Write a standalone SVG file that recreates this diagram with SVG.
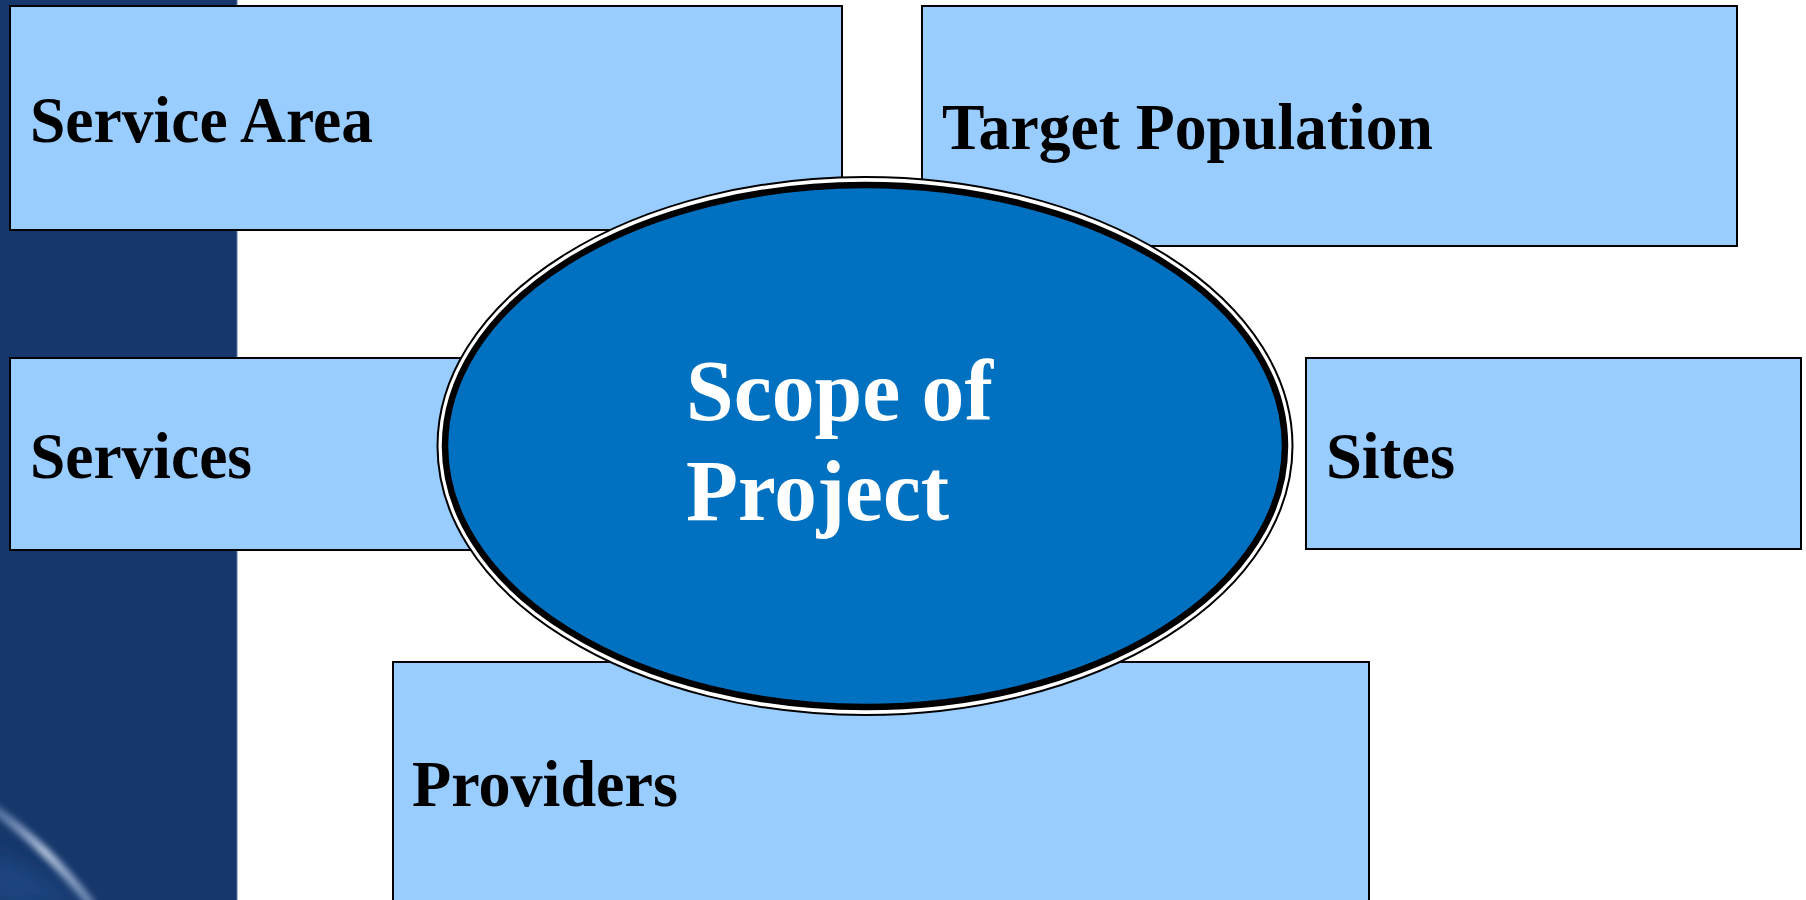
<svg xmlns="http://www.w3.org/2000/svg" width="1806" height="900" viewBox="0 0 1806 900">
  <style>
    .box { fill: #99CCFF; stroke: #000000; stroke-width: 2; }
    .label { font-family: "Liberation Serif", "Times New Roman", serif; font-weight: bold; font-size: 66px; fill: #000000; }
    .core { font-family: "Liberation Serif", "Times New Roman", serif; font-weight: bold; font-size: 86px; fill: #FFFFFF; }
  </style>
  <defs>
    <filter id="soft" x="-50%" y="-50%" width="200%" height="200%">
      <feGaussianBlur stdDeviation="3"/>
    </filter>
    <filter id="haze" x="-50%" y="-50%" width="200%" height="200%">
      <feGaussianBlur stdDeviation="10"/>
    </filter>
    <linearGradient id="streak" x1="0" y1="0" x2="1" y2="1">
      <stop offset="0" stop-color="#6f8fbf" stop-opacity="0.6"/>
      <stop offset="0.5" stop-color="#b7c6de"/>
      <stop offset="1" stop-color="#8aa3c9" stop-opacity="0.7"/>
    </linearGradient>
  </defs>

  <!-- background: navy side band with a light swoosh -->
  <rect x="0" y="0" width="1806" height="900" fill="#FFFFFF"/>
  <rect x="0" y="0" width="237" height="900" fill="#16376B"/>
  <rect x="236" y="0" width="2" height="900" fill="#5f7aa6" opacity="0.5"/>
  <path d="M -10 850 Q 40 870 80 905 L -10 905 Z" fill="#1d4580" filter="url(#haze)"/>
  <path d="M -10 806 Q 45 845 92 905" fill="none" stroke="url(#streak)" stroke-width="9" filter="url(#soft)"/>

  <g id="service-area">
    <rect class="box" x="10" y="6" width="832" height="224"/>
    <text class="label" x="30" y="142" textLength="343" lengthAdjust="spacingAndGlyphs">Service Area</text>
  </g>
  <g id="target-population">
    <rect class="box" x="922" y="6" width="815" height="240"/>
    <text class="label" x="942" y="149" textLength="491" lengthAdjust="spacingAndGlyphs">Target Population</text>
  </g>
  <g id="services">
    <rect class="box" x="10" y="358" width="470" height="192"/>
    <text class="label" x="30" y="478" textLength="222" lengthAdjust="spacingAndGlyphs">Services</text>
  </g>
  <g id="sites">
    <rect class="box" x="1306" y="358" width="495" height="191"/>
    <text class="label" x="1326" y="478" textLength="129" lengthAdjust="spacingAndGlyphs">Sites</text>
  </g>
  <g id="providers">
    <rect class="box" x="393" y="662" width="976" height="260"/>
    <text class="label" x="412" y="806" textLength="266" lengthAdjust="spacingAndGlyphs">Providers</text>
  </g>

  <!-- connectors: none, the boxes surround the central ellipse -->
  <g id="connectors"></g>

  <g id="scope-of-project">
    <ellipse cx="865" cy="446" rx="427.5" ry="269" fill="#FFFFFF" stroke="#000000" stroke-width="2"/>
    <ellipse cx="865" cy="446" rx="420" ry="261" fill="#0070C0" stroke="#000000" stroke-width="6.5"/>
    <text class="core" x="686" y="420" textLength="307" lengthAdjust="spacingAndGlyphs">Scope of</text>
    <text class="core" x="686" y="520" textLength="263" lengthAdjust="spacingAndGlyphs">Project</text>
  </g>
</svg>
